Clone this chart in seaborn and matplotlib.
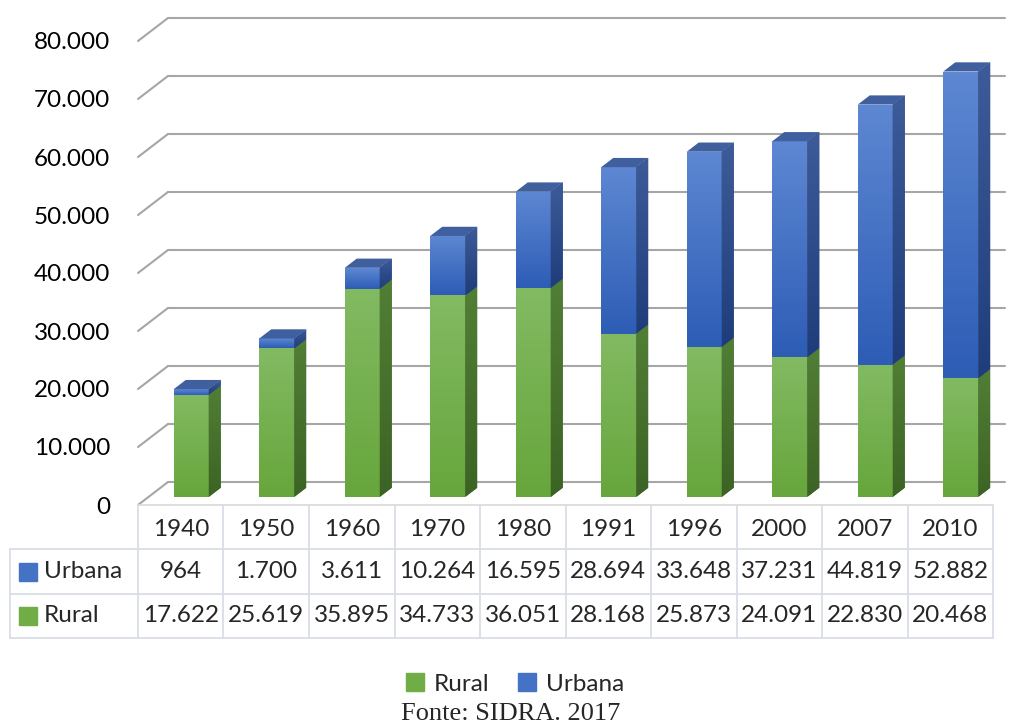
import numpy as np
import matplotlib
matplotlib.use('Agg')
import matplotlib.pyplot as plt
import matplotlib.transforms as mtransforms
from matplotlib.patches import Polygon, Patch
from matplotlib.colors import LinearSegmentedColormap
import seaborn as sns

# data (thousands of inhabitants)
years = ['1940', '1950', '1960', '1970', '1980', '1991', '1996', '2000', '2007', '2010']
urbana = [964, 1700, 3611, 10264, 16595, 28694, 33648, 37231, 44819, 52882]
rural = [17622, 25619, 35895, 34733, 36051, 28168, 25873, 24091, 22830, 20468]
y_ticks = [0, 10000, 20000, 30000, 40000, 50000, 60000, 70000, 80000]

sns.set_theme(style='white')
plt.rcParams['font.family'] = ['Lato', 'DejaVu Sans']
FS = 17.5

fig = plt.figure(figsize=(10.12, 7.26), dpi=100)
ax = fig.add_axes([138 / 1012, 221 / 726, 855 / 1012, 469.8 / 726])

# pixel -> data scale of the front plane
PX_X = 85.5
PX_Y = 469.8 / 81000
BX, BY = 30 / PX_X, 23 / PX_Y          # depth of the back wall
FX, FY = 0.35 * BX, 0.35 * BY           # bar front face offset
DX, DY = 0.4 * BX, 0.4 * BY             # bar depth


def shade(patch, top, bottom, z):
    ext = patch.get_path().transformed(patch.get_patch_transform()).get_extents() \
        if not isinstance(patch, Polygon) else patch.get_path().get_extents()
    cmap = LinearSegmentedColormap.from_list('g', [bottom, top])
    im = ax.imshow(np.linspace(0, 1, 64).reshape(-1, 1), cmap=cmap, origin='lower',
                   aspect='auto', extent=(ext.x0, ext.x1, ext.y0, ext.y1), zorder=z)
    im.set_clip_path(patch)


# back wall gridlines + diagonals
x_right = -0.5 + (1005 - 138) / PX_X
for v in y_ticks:
    ax.plot([-0.5, -0.5 + BX], [v, v + BY], color='#a6a6a6', lw=1.5, clip_on=False, zorder=1)
    ax.plot([-0.5 + BX, x_right], [v + BY, v + BY], color='#a6a6a6', lw=1.5, clip_on=False, zorder=1)

# bars
x = np.arange(len(years)) + FX
w = 35 / PX_X
rural = np.array(rural)
urbana = np.array(urbana)
segments = [
    (rural, FY, ('#82ba62', '#67a63c'), ('#517f35', '#3c6324')),
    (urbana, FY + rural, ('#5d87d2', '#2e5db6'), ('#3d5b99', '#1f3d7a')),
]
for vals, base, front_c, side_c in segments:
    bars = ax.bar(x, vals, width=w, bottom=base, color=front_c[1], lw=0, zorder=3)
    for b in bars:
        shade(b, front_c[0], front_c[1], 3)
        x1 = b.get_x() + b.get_width()
        y0, y1 = b.get_y(), b.get_y() + b.get_height()
        side = Polygon([(x1, y0), (x1 + DX, y0 + DY), (x1 + DX, y1 + DY), (x1, y1)],
                       closed=True, color=side_c[1], lw=0, zorder=3)
        ax.add_patch(side)
        shade(side, side_c[0], side_c[1], 3)

# top faces
tops = rural + urbana + FY
for xi, t in zip(x, tops):
    x0, x1 = xi - w / 2, xi + w / 2
    ax.add_patch(Polygon([(x0, t), (x0 + DX, t + DY), (x1 + DX, t + DY), (x1, t)],
                         closed=True, color='#405f9f', lw=0, zorder=4))

ax.set_xlim(-0.5, 9.5)
ax.set_ylim(0, 81000)
ax.set_xticks([])
ax.set_yticks(y_ticks)
ax.set_yticklabels(['0' if v == 0 else f'{v:,}'.replace(',', '.') for v in y_ticks])
ax.tick_params(axis='y', length=0, pad=20, labelsize=FS, labelcolor='black')
for s in ax.spines.values():
    s.set_visible(False)

# data table
tr = mtransforms.blended_transform_factory(ax.transData, ax.transAxes)


def yp(px):
    return (505 - px) / 469.8


x_left = -0.5 + (10 - 138) / PX_X
lc = '#d9dde6'
ax.plot([-0.5, 9.5], [yp(505), yp(505)], color='#d9d9d9', lw=1.2, transform=tr, clip_on=False)
for py in [549, 594, 638]:
    ax.plot([x_left, 9.5], [yp(py), yp(py)], color=lc, lw=1.3, transform=tr, clip_on=False)
for k in range(len(years) + 1):
    ax.plot([-0.5 + k, -0.5 + k], [yp(505), yp(638)], color=lc, lw=1.3, transform=tr, clip_on=False)
ax.plot([x_left, x_left], [yp(549), yp(638)], color=lc, lw=1.3, transform=tr, clip_on=False)

for i, yr in enumerate(years):
    ax.text(i, yp(529), yr, ha='center', va='center', fontsize=FS, transform=tr)
    ax.text(i, yp(572), f'{urbana[i]:,}'.replace(',', '.'), ha='center', va='center',
            fontsize=FS, transform=tr)
    ax.text(i, yp(616), f'{rural[i]:,}'.replace(',', '.'), ha='center', va='center',
            fontsize=FS, transform=tr)

for name, col, py in [('Urbana', '#4472c4', 572), ('Rural', '#70ad47', 616)]:
    ax.plot([x_left + 18 / PX_X], [yp(py)], marker='s', ms=12.5, color=col, lw=0,
            transform=tr, clip_on=False)
    ax.text(x_left + 34 / PX_X, yp(py), name, ha='left', va='center', fontsize=FS, transform=tr)

# legend and source
fig.legend(handles=[Patch(color='#70ad47'), Patch(color='#4472c4')], labels=['Rural', 'Urbana'],
           loc='center', bbox_to_anchor=(0.509, 1 - 684 / 726), ncol=2, frameon=False,
           handlelength=0.72, handleheight=0.72, handletextpad=0.4, columnspacing=1.2,
           fontsize=FS)
fig.text(0.505, 1 - 714 / 726, 'Fonte: SIDRA. 2017', family='Liberation Serif',
         fontsize=19, ha='center', va='center')

fig.savefig('out.png', dpi=100)
